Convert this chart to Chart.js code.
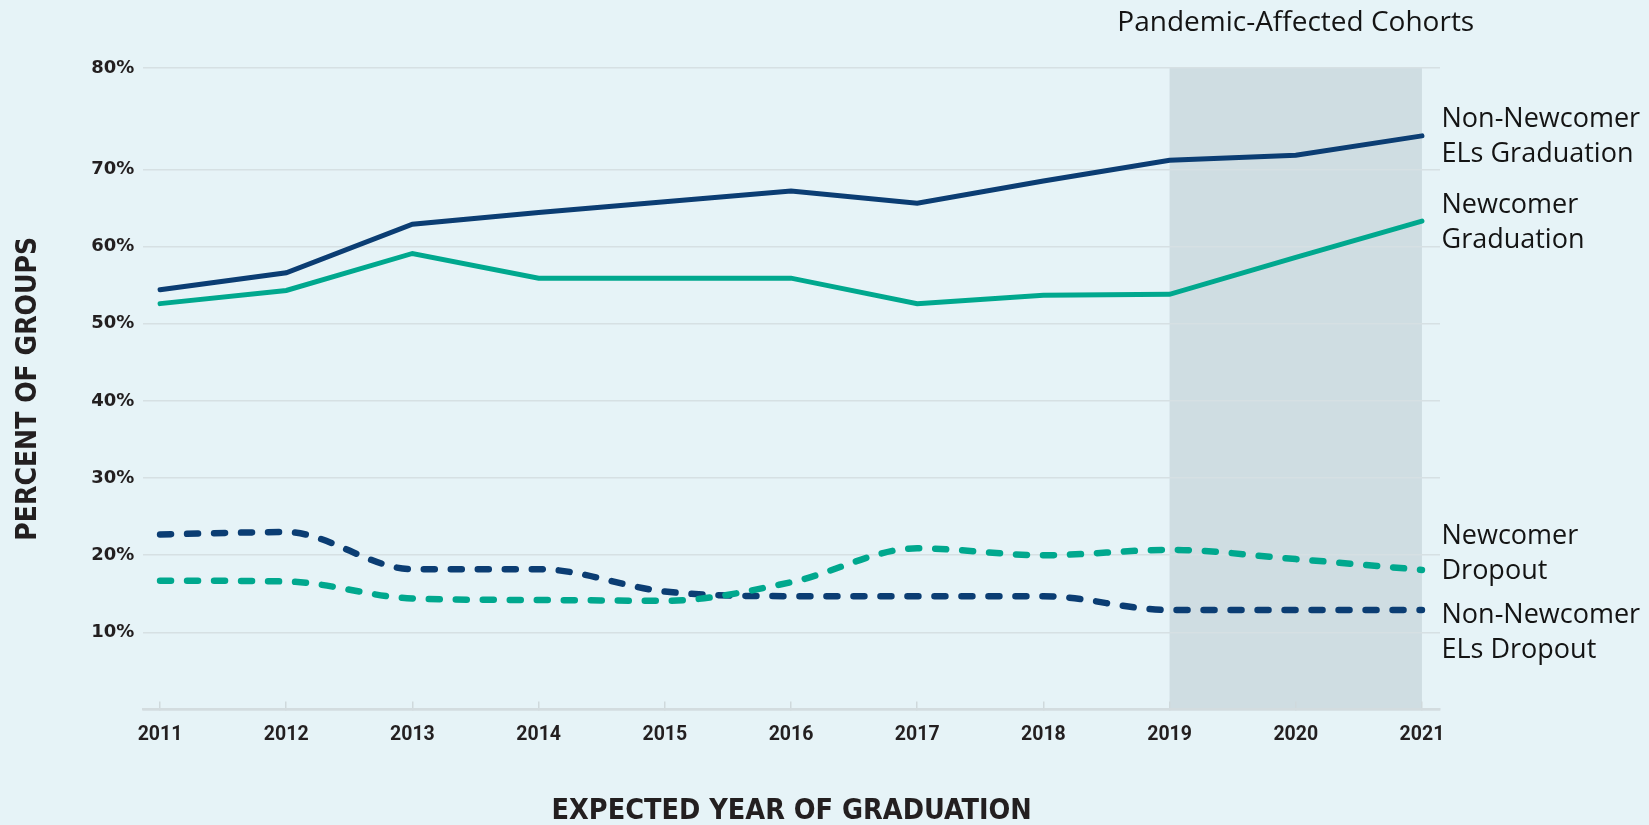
<!DOCTYPE html>
<html>
<head>
<meta charset="utf-8">
<script src="https://cdn.jsdelivr.net/npm/chart.js@4.4.1/dist/chart.umd.min.js"></script>
<style>
  html, body { margin: 0; padding: 0; background: #e6f3f7; }
  canvas { display: block; }
</style>
</head>
<body>
<canvas id="gradChart" width="1649" height="825"></canvas>
<script>
// expected year of graduation (cohorts)
const years = [2011, 2012, 2013, 2014, 2015, 2016, 2017, 2018, 2019, 2020, 2021];

// percent of each group
const nonNewcomerGrad = [54.4, 56.6, 62.9, 64.4, 65.8, 67.2, 65.6, 68.5, 70.9, 71.4, 73.3];
const newcomerGrad = [52.6, 54.3, 59.1, 55.9, 55.9, 55.9, 52.6, 53.7, 53.8, 58.6, 63.3];
const newcomerDropout = [16.7, 16.6, 14.4, 14.2, 14.1, 16.5, 20.9, 20.0, 20.7, 19.5, 18.1];
const nonNewcomerDropout = [22.7, 23.0, 18.2, 18.2, 15.3, 14.7, 14.7, 14.7, 12.9, 12.9, 12.9];

const yTicks = [0, 10, 20, 30, 40, 50, 60, 70, 80];
const pandemicYears = [2019, 2021];

const seriesLabels = {
  nonNewcomerGrad: ["Non-Newcomer", "ELs Graduation"],
  newcomerGrad: ["Newcomer", "Graduation"],
  newcomerDropout: ["Newcomer", "Dropout"],
  nonNewcomerDropout: ["Non-Newcomer", "ELs Dropout"],
};

const NAVY = "#0b3d73";
const TEAL = "#00a88e";
const TEXT = "#231f20";
const NARROW = "'Liberation Sans Narrow', 'DejaVu Sans Condensed', Roboto, sans-serif";

// the original axis gives the 70-80% band more room than the others
const BAND_STRETCH = 1.313;
const toDecimal = (v) => {
  const total = 7 + BAND_STRETCH;
  if (v <= 70) return v / 10 / total;
  return (7 + ((v - 70) / 10) * BAND_STRETCH) / total;
};
const fromDecimal = (d) => {
  const total = 7 + BAND_STRETCH;
  const u = d * total;
  if (u <= 7) return u * 10;
  return 70 + ((u - 7) / BAND_STRETCH) * 10;
};

class StretchedScale extends Chart.LinearScale {
  getPixelForValue(value) {
    if (value === null || value === undefined || isNaN(value)) return NaN;
    return this.getPixelForDecimal(toDecimal(value));
  }
  getValueForPixel(pixel) {
    return fromDecimal(this.getDecimalForPixel(pixel));
  }
}
StretchedScale.id = "stretched";
StretchedScale.defaults = Chart.LinearScale.defaults;
Chart.register(StretchedScale);

// shaded band for pandemic cohorts, plus the text around the plot
const decorPlugin = {
  id: "decor",
  beforeDraw(chart) {
    const { ctx, chartArea, scales } = chart;
    const left = scales.x.getPixelForValue(pandemicYears[0]);
    const right = scales.x.getPixelForValue(pandemicYears[1]);
    ctx.save();
    ctx.fillStyle = "#cfdde2";
    ctx.fillRect(left, chartArea.top, right - left, chartArea.bottom - chartArea.top);
    ctx.restore();
  },
  afterDraw(chart) {
    const { ctx, chartArea, scales } = chart;
    const left = scales.x.getPixelForValue(pandemicYears[0]);
    const right = scales.x.getPixelForValue(pandemicYears[1]);
    ctx.save();
    ctx.fillStyle = "#141414";
    ctx.font = "500 28px 'Open Sans', sans-serif";
    ctx.textBaseline = "alphabetic";
    ctx.textAlign = "center";
    ctx.fillText("Pandemic-Affected Cohorts", (left + right) / 2, 31);

    ctx.font = "500 27px 'Open Sans', sans-serif";
    ctx.textAlign = "left";
    const x = chartArea.right + 1.5;
    const rows = [
      [seriesLabels.nonNewcomerGrad, 127],
      [seriesLabels.newcomerGrad, 213],
      [seriesLabels.newcomerDropout, 544],
      [seriesLabels.nonNewcomerDropout, 623],
    ];
    rows.forEach(([lines, y]) => {
      lines.forEach((t, i) => ctx.fillText(t, x, y + i * 35));
    });
    ctx.restore();
  },
};

const solid = (label, data, color) => ({
  label,
  data,
  borderColor: color,
  borderWidth: 5,
  borderCapStyle: "round",
  pointRadius: 0,
  tension: 0,
  fill: false,
});

const dashed = (label, data, color) => ({
  label,
  data,
  borderColor: color,
  borderWidth: 6.5,
  borderDash: [11, 16],
  borderCapStyle: "round",
  pointRadius: 0,
  cubicInterpolationMode: "monotone",
  fill: false,
});

const toPoints = (vals) => vals.map((v, i) => ({ x: years[i], y: v }));

new Chart(document.getElementById("gradChart"), {
  type: "line",
  data: {
    datasets: [
      solid("Non-Newcomer ELs Graduation", toPoints(nonNewcomerGrad), NAVY),
      solid("Newcomer Graduation", toPoints(newcomerGrad), TEAL),
      dashed("Newcomer Dropout", toPoints(newcomerDropout), TEAL),
      dashed("Non-Newcomer ELs Dropout", toPoints(nonNewcomerDropout), NAVY),
    ],
  },
  options: {
    responsive: false,
    animation: false,
    layout: { padding: { left: 0, top: 68, right: 209, bottom: 0 } },
    plugins: {
      legend: { display: false },
      tooltip: { enabled: false },
    },
    scales: {
      x: {
        type: "linear",
        min: years[0] - 0.132,
        max: years[years.length - 1] + 0.143,
        afterFit: (scale) => { scale.height = 115.4; },
        ticks: {
          stepSize: 1,
          includeBounds: false,
          padding: 24,
          color: TEXT,
          font: { family: "Roboto, sans-serif", weight: "bold", size: 19.5, lineHeight: 1 },
          callback: (v) => String(v),
        },
        grid: {
          drawOnChartArea: false,
          drawTicks: true,
          tickLength: -8,
          color: "#cfd9dc",
          lineWidth: 1.5,
        },
        border: { display: true, color: "#d3dcdf", width: 2.5 },
        title: {
          display: true,
          text: "EXPECTED YEAR OF GRADUATION",
          color: TEXT,
          font: { family: NARROW, weight: "bold", size: 28.5, lineHeight: 1 },
          padding: { top: 0, bottom: -1 },
        },
      },
      y: {
        type: "stretched",
        min: yTicks[0],
        max: yTicks[yTicks.length - 1],
        afterFit: (scale) => { scale.width = 143.4; },
        afterBuildTicks: (scale) => { scale.ticks = yTicks.map((v) => ({ value: v })); },
        ticks: {
          stepSize: 10,
          padding: 9,
          color: TEXT,
          font: { family: "'DejaVu Sans', sans-serif", weight: "bold", size: 18 },
          callback: (v) => (v === 0 ? "" : v + "%"),
        },
        grid: { drawTicks: false, color: "#d6e0e3", lineWidth: 1.5 },
        border: { display: false },
        title: {
          display: true,
          text: "PERCENT OF GROUPS",
          color: TEXT,
          font: { family: NARROW, weight: "bold", size: 28, lineHeight: 1 },
          padding: { top: 15, bottom: 0 },
        },
      },
    },
  },
  plugins: [decorPlugin],
});
</script>
</body>
</html>
